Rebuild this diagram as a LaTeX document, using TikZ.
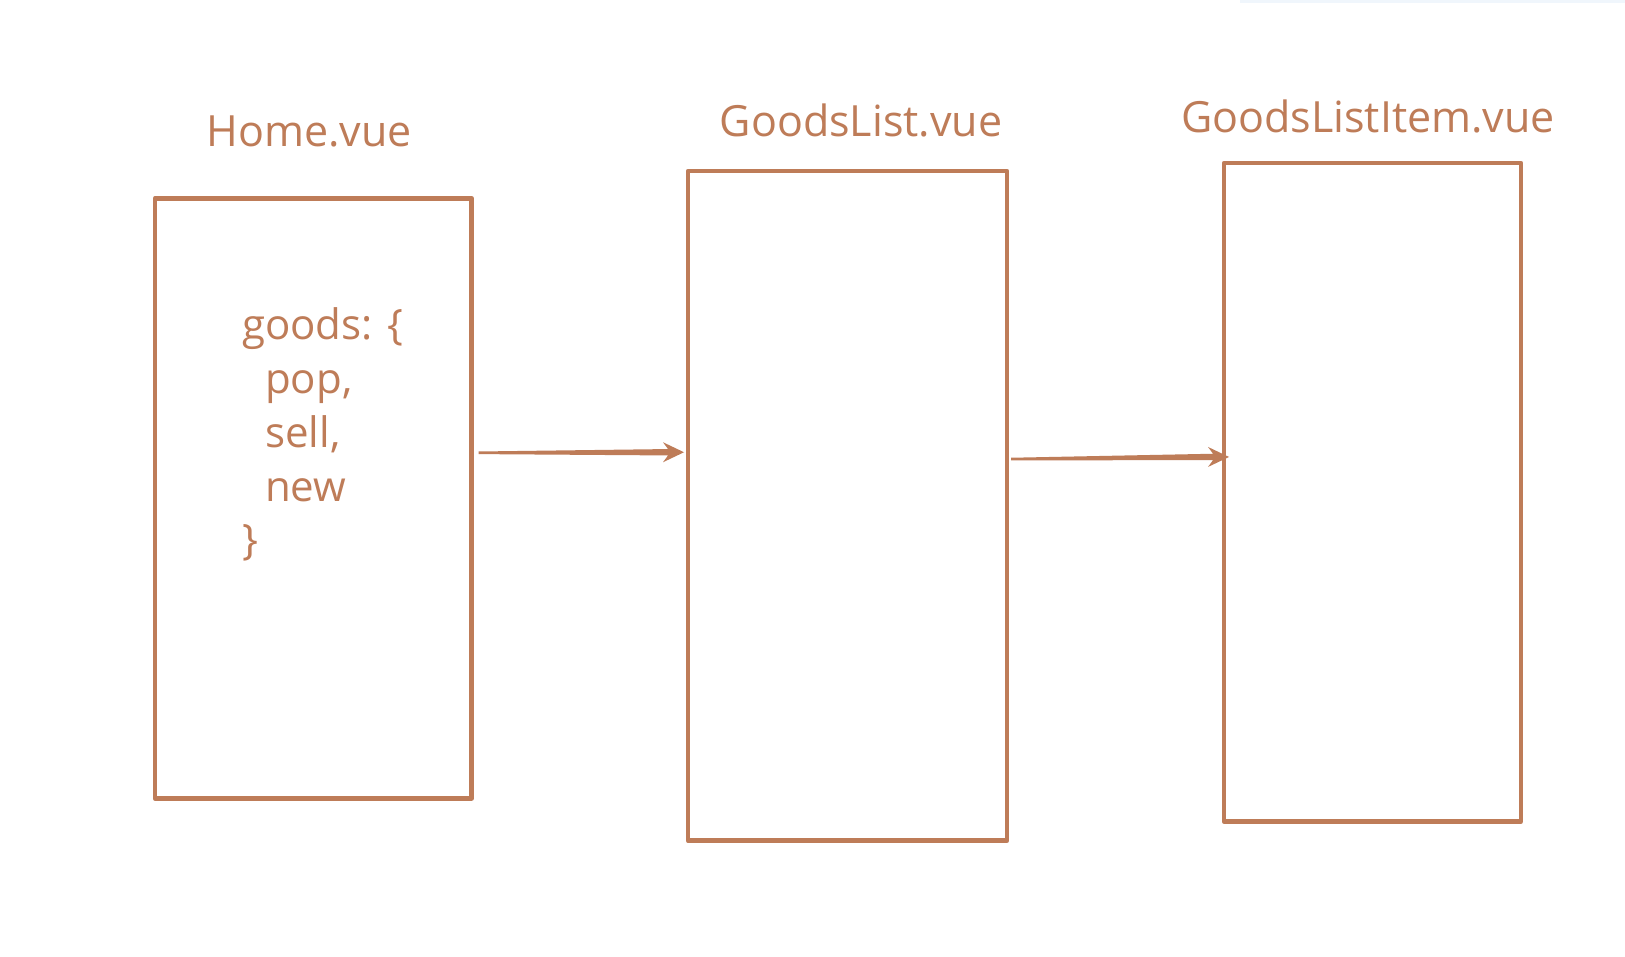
\documentclass[tikz,border=0pt]{standalone}
\usepackage{fontspec}
\setmainfont{Open Sans}
\usetikzlibrary{calc}
\definecolor{brn}{RGB}{190,124,88}
\definecolor{topbar}{RGB}{240,246,252}
\tikzset{
  box/.style={draw=brn, line width=4.5pt, line join=round, inner sep=0pt, outer sep=0pt, anchor=north west},
  title/.style={text=brn, font=\fontsize{43}{50}\selectfont, anchor=base, inner sep=0pt},
  code/.style={text=brn, font=\fontsize{42}{50}\selectfont, anchor=base west, inner sep=0pt},
}
\begin{document}
\begin{tikzpicture}[x=1pt,y=-1pt]
\useasboundingbox (0,0) rectangle (1625,957);
\fill[white] (0,0) rectangle (1625,957);
\fill[topbar] (1240,0) rectangle (1625,3);

\node[box, minimum width=316.7pt, minimum height=600pt] (home) at (155,198.3) {};
\node[box, minimum width=319pt, minimum height=669.7pt] (list) at (688,171) {};
\node[box, minimum width=297pt, minimum height=658.3pt] (item) at (1224,163) {};

\node[title] (thome) at (309,147) {Home.vue};
\node[title] (tlist) at (861,137) {GoodsList.vue};
\node[title] (titem) at (1368,133) {GoodsListItem.vue};

\node[code] (c1) at (242,340) {goods: \{};
\node[code] (c2) at (265,394) {pop,};
\node[code] (c3) at (265,447) {sell,};
\node[code] (c4) at (265,501) {new};
\node[code] (c5) at (242,554) {\}};

% arrows (tapered)
\coordinate (s1) at ($(home.east)+(7,-45.5)$);
\coordinate (e1) at ($(list.west)+(-4,-53.6)$);
\coordinate (s2) at ($(list.east)+(4,-46.8)$);
\coordinate (e2) at ($(item.west)+(5,-35.2)$);
\foreach \s/\e in {s1/e1, s2/e2}{
  \fill[brn] ($(\s)+(0,-1.3)$) -- ($(\e)+(-16,-3.2)$) -- ($(\e)+(-21,-10)$) -- (\e)
    -- ($(\e)+(-21,10)$) -- ($(\e)+(-16,3.2)$) -- ($(\s)+(0,1.3)$) -- cycle;
}
\end{tikzpicture}
\end{document}
